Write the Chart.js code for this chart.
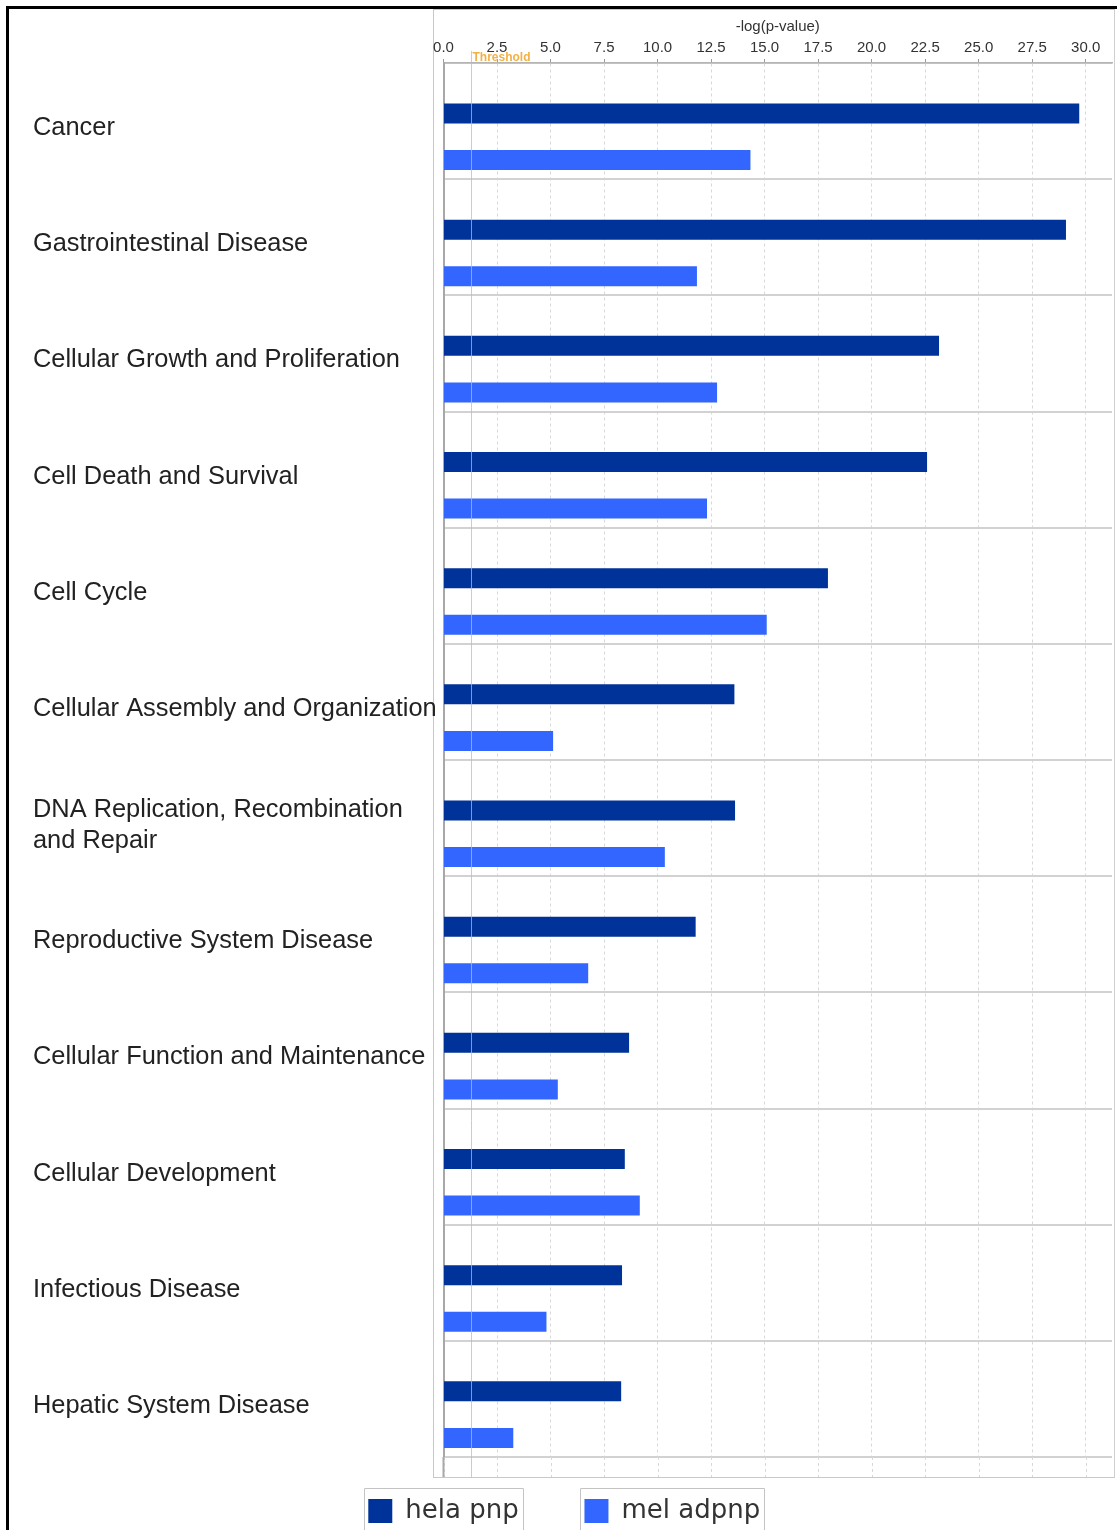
<!DOCTYPE html>
<html>
<head>
<meta charset="utf-8">
<script src="https://cdn.jsdelivr.net/npm/chart.js@4.4.1/dist/chart.umd.min.js"></script>
<style>
  html, body { margin: 0; padding: 0; background: #fff; overflow: hidden; }
  #frame { position: absolute; left: 6px; top: 6px; width: 1200px; height: 1600px;
           border-top: 3px solid #000; border-left: 3px solid #000; }
  #panel { position: absolute; left: 433px; top: 9px; width: 680px; height: 1467px;
           border: 1px solid #c8c8c8; border-right-color: #cfcfcf; }
  #c { position: absolute; left: 0; top: 0; }
</style>
</head>
<body>
<div id="frame"></div>
<div id="panel"></div>
<canvas id="c" width="1117" height="1534"></canvas>
<script>
// Functional categories, top to bottom
const categories = [
  'Cancer',
  'Gastrointestinal Disease',
  'Cellular Growth and Proliferation',
  'Cell Death and Survival',
  'Cell Cycle',
  'Cellular Assembly and Organization',
  ['DNA Replication, Recombination', 'and Repair'],
  'Reproductive System Disease',
  'Cellular Function and Maintenance',
  'Cellular Development',
  'Infectious Disease',
  'Hepatic System Disease'
];

// -log(p-value) per category
const helaPnp  = [29.70, 29.08, 23.15, 22.59, 17.96, 13.59, 13.62, 11.78, 8.67, 8.47, 8.34, 8.30];
const melAdpnp = [14.34, 11.84, 12.78, 12.31, 15.10, 5.12, 10.34, 6.76, 5.34, 9.17, 4.81, 3.26];

const seriesNames = ['hela pnp', 'mel adpnp'];

// Axis ticks along the top
const xTickValues = [0, 2.5, 5, 7.5, 10, 12.5, 15, 17.5, 20, 22.5, 25, 27.5, 30];
const xAxisMax = 31.23;

// Significance threshold (p = 0.05)
const threshold = 1.3;

const SANS = "'Liberation Sans', Arial, sans-serif";

// Threshold marker, panel extension below the last band, framed legend entries
const decorations = {
  id: 'decorations',
  afterDatasetsDraw(chart) {
    const {ctx, chartArea, scales: {x}} = chart;
    const ext = 20;
    ctx.save();
    // dashed grid continues to the bottom of the panel
    ctx.strokeStyle = '#d8d8d8';
    ctx.lineWidth = 1;
    ctx.setLineDash([3, 3]);
    x.ticks.forEach(t => {
      const px = Math.round(x.getPixelForValue(t.value)) + 0.5;
      ctx.beginPath();
      ctx.moveTo(px, chartArea.bottom);
      ctx.lineTo(px, chartArea.bottom + ext);
      ctx.stroke();
    });
    ctx.setLineDash([]);
    // left axis continues too
    ctx.strokeStyle = '#a8a8a8';
    ctx.lineWidth = 2;
    ctx.beginPath();
    ctx.moveTo(chartArea.left, chartArea.bottom);
    ctx.lineTo(chartArea.left, chartArea.bottom + ext);
    ctx.stroke();
    // threshold line
    const tx = Math.round(x.getPixelForValue(threshold)) + 0.5;
    ctx.strokeStyle = 'rgba(244, 178, 80, 0.75)';
    ctx.lineWidth = 1;
    ctx.beginPath();
    ctx.moveTo(tx, chartArea.top - 12);
    ctx.lineTo(tx, chartArea.bottom + ext);
    ctx.stroke();
    // threshold caption
    ctx.fillStyle = '#f3b145';
    ctx.font = 'bold 12px ' + SANS;
    ctx.textAlign = 'left';
    ctx.textBaseline = 'middle';
    ctx.fillText('Threshold', tx + 1, chartArea.top - 5);
    ctx.restore();
  },
  afterDraw(chart) {
    const legend = chart.legend;
    if (!legend || !legend.legendHitBoxes) return;
    const {ctx} = chart;
    const lab = legend.options.labels;
    ctx.save();
    ctx.font = lab.font.size + 'px ' + lab.font.family;
    ctx.strokeStyle = '#c4c4c4';
    ctx.lineWidth = 1;
    legend.legendHitBoxes.forEach((hb, i) => {
      const w = lab.boxWidth + lab.font.size / 2 + ctx.measureText(seriesNames[i]).width;
      const left = Math.round(hb.left - 4) + 0.5;
      const right = Math.round(hb.left + w + 4) + 0.5;
      const top = Math.round(hb.top + hb.height / 2 - 23) + 0.5;
      ctx.beginPath();
      ctx.moveTo(left, chart.height + 2);
      ctx.lineTo(left, top);
      ctx.lineTo(right, top);
      ctx.lineTo(right, chart.height + 2);
      ctx.stroke();
    });
    ctx.restore();
  }
};

// Trailing room after each legend entry so the framed entries sit apart
const legendTrail = ['   ', '  '];

new Chart(document.getElementById('c'), {
  type: 'bar',
  data: {
    labels: categories,
    datasets: [
      {
        label: seriesNames[0],
        data: helaPnp,
        backgroundColor: '#003399',
        borderWidth: 0,
        // narrow group: this series sits just above the band centre
        categoryPercentage: 0.262,
        barPercentage: 2,
        maxBarThickness: 20
      },
      {
        label: seriesNames[1],
        data: melAdpnp,
        backgroundColor: '#3366ff',
        borderWidth: 0,
        // wide group: this series sits in the lower part of the band
        categoryPercentage: 1.343,
        barPercentage: 1,
        maxBarThickness: 20
      }
    ]
  },
  options: {
    indexAxis: 'y',
    responsive: false,
    devicePixelRatio: 1,
    animation: false,
    layout: { padding: { left: 33, right: 5, top: 0, bottom: 0 } },
    scales: {
      x: {
        position: 'top',
        min: 0,
        max: xAxisMax,
        afterBuildTicks: (scale) => {
          scale.ticks = xTickValues.map(v => ({ value: v }));
        },
        afterFit: (scale) => { scale.height = 63; },
        ticks: {
          autoSkip: false,
          maxRotation: 0,
          padding: 2,
          color: '#333',
          font: { family: SANS, size: 15 },
          callback: (v) => Number(v).toFixed(1)
        },
        grid: {
          color: '#d8d8d8',
          lineWidth: 1,
          drawTicks: true,
          tickLength: 4,
          tickColor: '#9a9a9a'
        },
        border: { display: true, color: '#b4b4b4', width: 1.5, dash: [3, 3] },
        title: {
          display: true,
          text: '-log(p-value)',
          color: '#333',
          font: { family: SANS, size: 15 },
          padding: { top: 18, bottom: 0 }
        }
      },
      y: {
        position: 'left',
        afterFit: (scale) => { scale.width = 410.5; },
        ticks: {
          autoSkip: false,
          crossAlign: 'far',
          labelOffset: 7,
          color: '#222',
          font: { family: SANS, size: 25.4, lineHeight: 1.22 }
        },
        grid: {
          offset: true,
          color: '#d2d2d2',
          lineWidth: 2,
          drawTicks: false
        },
        border: { display: true, color: '#a8a8a8', width: 2 }
      }
    },
    plugins: {
      tooltip: { enabled: false },
      legend: {
        display: true,
        position: 'bottom',
        labels: {
          boxWidth: 24,
          boxHeight: 24,
          padding: 41,
          color: '#333',
          font: { family: "'DejaVu Sans', Verdana, sans-serif", size: 26 },
          generateLabels: (chart) => {
            const items = Chart.defaults.plugins.legend.labels.generateLabels(chart);
            items.forEach((it, i) => { it.text = it.text + legendTrail[i]; it.lineWidth = 0; });
            return items;
          }
        }
      }
    }
  },
  plugins: [decorations]
});
</script>
</body>
</html>
